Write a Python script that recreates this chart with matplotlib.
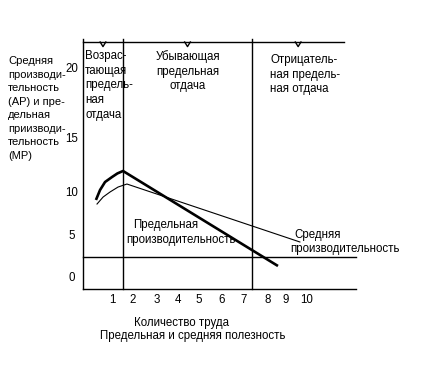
import matplotlib
matplotlib.use("Agg")
import matplotlib.pyplot as plt

plt.rcParams['font.family'] = ['Liberation Sans', 'DejaVu Sans']

# labour on x, productivity on y (units)
mp_labor = [0.26, 0.45, 0.68, 1.0, 1.25, 1.51, 8.66]
mp_value = [9.29, 10.48, 11.43, 12.02, 12.45, 12.74, 1.43]

ap_labor = [0.31, 0.59, 0.91, 1.28, 1.69, 9.67]
ap_value = [8.81, 9.64, 10.24, 10.83, 11.19, 4.29]

stage_bounds = [1.51, 7.46]
base_level = 2.5

xtick_labels = ['1', '2', '3', '4', '5', '6', '7', '8', '9', '10']
xtick_pos = [1.0, 1.97, 3.08, 4.05, 5.02, 6.08, 7.09, 8.20, 9.03, 10.0]
ytick_labels = ['0', '5', '10', '15', '20']
ytick_pos = [0, 5, 10.1, 16.5, 24.9]

x_left, x_right, x_top_end = -0.34, 12.27, 11.72
y_bottom, y_top = -1.31, 28.1


def P(px, py):
    # pixel position -> data coords
    return (px - 90.3) / 21.67, (278 - py) / 8.4


fig = plt.figure(figsize=(4.39, 3.84), dpi=100)
ax = fig.add_axes([0, 0, 1, 1])
ax.set_xlim(-4.167, 16.09)
ax.set_ylim(-12.62, 33.1)
ax.axis('off')

lw = 1.0
# axes frame
ax.plot([x_left, x_left], [y_bottom, y_top + 0.3], color='black', lw=lw)
ax.plot([x_left, x_right], [y_bottom, y_bottom], color='black', lw=lw)
ax.plot([x_left, x_top_end], [y_top, y_top], color='black', lw=lw)
ax.plot([x_left, x_right], [base_level, base_level], color='black', lw=lw)
for b in stage_bounds:
    ax.plot([b, b], [y_bottom, y_top + 0.3], color='black', lw=lw)

# small notches on the top line (middle of each stage)
for m in [(x_left + stage_bounds[0]) / 2, sum(stage_bounds) / 2,
          (stage_bounds[1] + x_top_end) / 2]:
    ax.plot([m - 0.13, m, m + 0.13], [y_top, y_top - 0.55, y_top],
            color='black', lw=lw)

ax.plot(mp_labor, mp_value, color='black', lw=1.9, solid_capstyle='butt')
ax.plot(ap_labor, ap_value, color='black', lw=0.8)

fs = 8.3
ls = 1.3
for lab, pos in zip(xtick_labels, xtick_pos):
    ax.text(pos, P(0, 300)[1], lab, ha='center', va='center', fontsize=fs)
for lab, pos in zip(ytick_labels, ytick_pos):
    ax.text(P(72, 0)[0], pos, lab, ha='center', va='center', fontsize=fs)

ax.text(*P(8, 56), 'Средняя\nпроизводи-\nтельность\n(АР) и пре-\nдельная\n'
        'приизводи-\nтельность\n(МР)', ha='left', va='top', fontsize=8,
        linespacing=1.44)
ax.text(*P(85, 50), 'Возрас-\nтающая\nпредель-\nная\nотдача',
        ha='left', va='top', fontsize=fs, linespacing=ls)
ax.text(*P(187.5, 50), 'Убывающая\nпредельная\nотдача',
        ha='center', va='top', fontsize=fs, linespacing=ls)
ax.text(*P(270, 54), 'Отрицатель-\nная предель-\nная отдача',
        ha='left', va='top', fontsize=fs, linespacing=ls)
ax.text(*P(166, 225), 'Предельная', ha='center', va='center', fontsize=fs)
ax.text(*P(181, 240), 'производительность', ha='center', va='center', fontsize=fs)
ax.text(*P(318, 235), 'Средняя', ha='center', va='center', fontsize=fs)
ax.text(*P(345, 249), 'производительность', ha='center', va='center', fontsize=fs)
ax.text(*P(181, 323), 'Количество труда', ha='center', va='center', fontsize=fs)
ax.text(*P(192.5, 336), 'Предельная и средняя полезность',
        ha='center', va='center', fontsize=fs)

fig.savefig('out.png', dpi=100)
